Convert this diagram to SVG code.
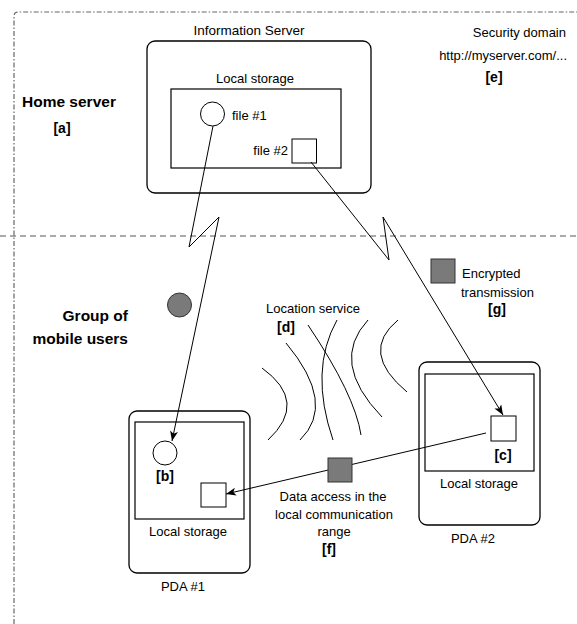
<svg xmlns="http://www.w3.org/2000/svg" width="577" height="624" viewBox="0 0 577 624">
<defs>
<style>
text{font-family:"Liberation Sans",Arial,sans-serif;font-size:13px;fill:#000}
.b{font-weight:bold;font-size:14px}
.h{font-weight:bold;font-size:15.5px}
.m{text-anchor:middle}
.e{text-anchor:end}
.box{fill:#fff;stroke:#000;stroke-width:1.3}
.in{fill:none;stroke:#000;stroke-width:1.2}
.ln{fill:none;stroke:#000;stroke-width:1}
.wave{fill:none;stroke:#000;stroke-width:1}
.gray{fill:#7a7a7a;stroke:#333;stroke-width:1}
</style>
<marker id="arr" markerWidth="12" markerHeight="10" refX="10" refY="4" orient="auto" markerUnits="userSpaceOnUse">
<path d="M0,0 L10,4 L0,8 L2.5,4 Z" fill="#000"/>
</marker>
</defs>
<rect width="577" height="624" fill="#fff"/>

<g id="borders">
<path d="M14,624 L14,16 Q14,12 18,12 L577,12" fill="none" stroke="#666" stroke-width="1.2" stroke-dasharray="5 2 1.5 2"/>
<line x1="0" y1="236" x2="577" y2="236" stroke="#555" stroke-width="1" stroke-dasharray="6 4"/>
</g>

<g id="home-server-label">
<text class="h" x="22" y="107">Home server</text>
<text class="b m" x="62" y="133">[a]</text>
</g>

<g id="security-domain">
<text class="e" x="566" y="37">Security domain</text>
<text class="e" x="567" y="60">http://myserver.com/...</text>
<text class="b m" x="494" y="82">[e]</text>
</g>

<g id="information-server">
<text class="m" x="249" y="35" style="font-size:13.5px">Information Server</text>
<rect class="box" x="147" y="41" width="224" height="152" rx="8"/>
<text class="m" x="255" y="83">Local storage</text>
<rect class="in" x="171" y="89" width="170" height="79"/>
</g>

<g id="file1">
<circle cx="212.5" cy="114" r="12" fill="#fff" stroke="#000" stroke-width="1"/>
<text x="232" y="120">file #1</text>
</g>

<g id="file2">
<rect x="292" y="139" width="24.5" height="24" fill="#fff" stroke="#000" stroke-width="1"/>
<text class="e" x="288" y="155">file #2</text>
</g>

<g id="group-label">
<text class="h e" x="128" y="321">Group of</text>
<text class="h e" x="128" y="344">mobile users</text>
</g>

<g id="gray-circle">
<circle cx="179.5" cy="305" r="12" class="gray"/>
</g>

<g id="encrypted">
<rect x="431" y="259" width="24" height="24" class="gray"/>
<text x="462" y="278">Encrypted</text>
<text x="461" y="297">transmission</text>
<text class="b m" x="497" y="314">[g]</text>
</g>

<g id="location-service">
<text x="266" y="313">Location service</text>
<text class="b" x="277" y="332">[d]</text>
<path class="wave" d="M262,368 Q309,402 268,440"/>
<path class="wave" d="M286,343 Q337,404 300,440"/>
<path class="wave" d="M308,325 Q355,395 361,435"/>
<path class="wave" d="M337,320 Q309,370 333,440"/>
<path class="wave" d="M368,320 Q329,362 382,417"/>
<path class="wave" d="M398,320 Q359,352 407,392"/>
</g>

<g id="pda1">
<rect class="box" x="129" y="411" width="121" height="162" rx="8"/>
<rect class="in" x="135" y="422" width="109" height="97"/>
<circle cx="165" cy="453" r="12" fill="#fff" stroke="#000" stroke-width="1"/>
<text class="b m" x="165" y="481">[b]</text>
<rect x="201" y="483" width="25" height="24" fill="#fff" stroke="#000" stroke-width="1"/>
<text class="m" x="188" y="536">Local storage</text>
<text class="m" x="183" y="591">PDA #1</text>
</g>

<g id="pda2">
<rect class="box" x="419" y="362" width="121" height="163" rx="8"/>
<rect class="in" x="425" y="374" width="109" height="97"/>
<rect x="491" y="416" width="25" height="25" fill="#fff" stroke="#000" stroke-width="1"/>
<text class="b m" x="503" y="460">[c]</text>
<text class="m" x="479" y="488">Local storage</text>
<text class="m" x="473" y="543">PDA #2</text>
</g>

<g id="connectors">
<polyline class="ln" points="213,126 189,247 219,217 172,441" marker-end="url(#arr)"/>
<polyline class="ln" points="311,162 389,260 383,217 503,415" marker-end="url(#arr)"/>
<line class="ln" x1="486" y1="433" x2="226" y2="494" marker-end="url(#arr)"/>
</g>

<g id="local-access">
<rect x="328" y="458" width="24" height="24" class="gray"/>
<text class="m" x="333" y="501">Data access in the</text>
<text class="m" x="334" y="519">local communication</text>
<text class="m" x="334" y="536">range</text>
<text class="b m" x="329" y="554">[f]</text>
</g>
</svg>
